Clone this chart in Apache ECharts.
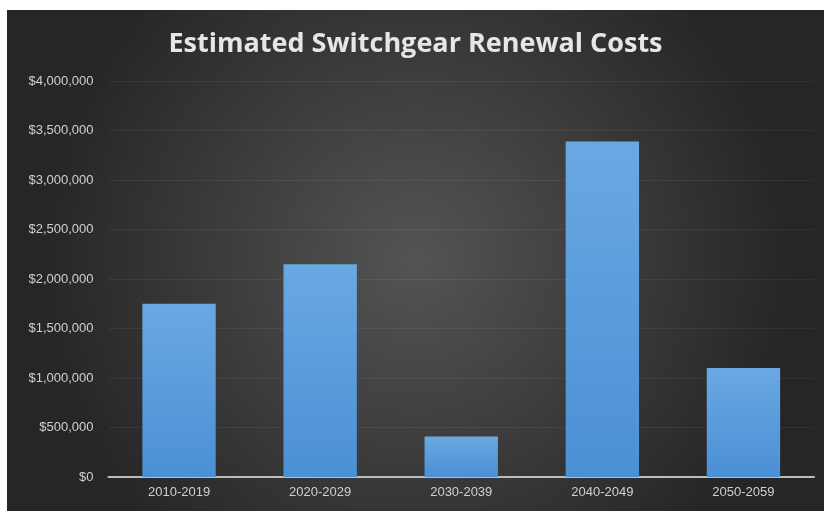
<!DOCTYPE html>
<html>
<head>
<meta charset="utf-8">
<script src="https://cdn.jsdelivr.net/npm/echarts@6/dist/echarts.min.js"></script>
<style>
  html, body { margin: 0; padding: 0; background: #ffffff; }
  #chart { position: absolute; left: 7px; top: 10px; width: 817px; height: 501px; }
</style>
</head>
<body>
<div id="chart"></div>
<script>
// Decades and their estimated renewal costs (USD)
const periods = ['2010-2019', '2020-2029', '2030-2039', '2040-2049', '2050-2059'];
const costs = [1750000, 2150000, 410000, 3390000, 1100000];
const axisMax = 4000000;
const axisStep = 500000;

const fmtMoney = v => '$' + v.toLocaleString('en-US');
const labelFont = '"Liberation Sans", Arial, sans-serif';

const chart = echarts.init(document.getElementById('chart'), null, { renderer: 'canvas' });
chart.setOption({
  animation: false,
  backgroundColor: {
    type: 'radial', x: 0.5, y: 0.5, r: 0.75,
    colorStops: [
      { offset: 0, color: '#545454' },
      { offset: 1, color: '#262626' }
    ]
  },
  title: {
    text: 'Estimated Switchgear Renewal Costs',
    left: 'center',
    top: 16,
    textStyle: {
      color: '#e6e6e6', fontSize: 27, fontWeight: 'bold',
      fontFamily: '"Open Sans", Lato, sans-serif'
    }
  },
  grid: { left: 101.5, right: 10, top: 71, bottom: 34, containLabel: false },
  xAxis: {
    type: 'category',
    data: periods,
    axisTick: { show: false },
    axisLine: { lineStyle: { color: '#bdbdbd', width: 2 } },
    axisLabel: {
      color: '#d0d0d0', fontSize: 13, margin: 9,
      fontFamily: labelFont
    }
  },
  yAxis: {
    type: 'value',
    min: 0, max: axisMax, interval: axisStep,
    axisLine: { show: false },
    axisTick: { show: false },
    splitLine: { lineStyle: { color: 'rgba(255,255,255,0.06)', width: 1 } },
    axisLabel: {
      color: '#d0d0d0', fontSize: 13, margin: 15,
      fontFamily: labelFont,
      formatter: fmtMoney
    }
  },
  series: [{
    type: 'bar',
    data: costs,
    barCategoryGap: '48%',
    itemStyle: {
      color: {
        type: 'linear', x: 0, y: 0, x2: 0, y2: 1,
        colorStops: [
          { offset: 0, color: '#69a8e2' },
          { offset: 1, color: '#4b90d5' }
        ]
      }
    }
  }]
});
</script>
</body>
</html>
